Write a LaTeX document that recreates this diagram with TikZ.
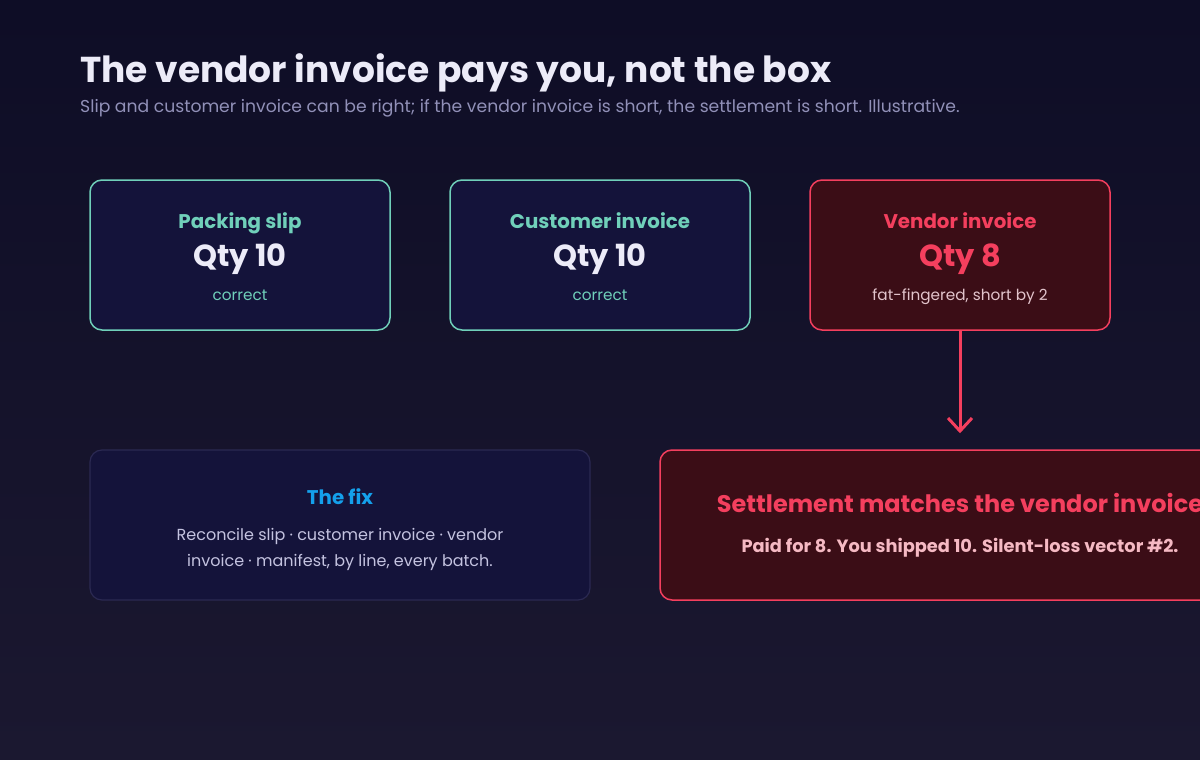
\documentclass[tikz,border=0pt]{standalone}
\usepackage{fontspec}
\setmainfont{Poppins}
\usepackage{xcolor}
\usetikzlibrary{arrows.meta, positioning}
\definecolor{bgtop}{RGB}{14,13,38}
\definecolor{bgbot}{RGB}{27,24,48}
\definecolor{cardfill}{RGB}{20,19,58}
\definecolor{slipteal}{RGB}{112,208,186}
\definecolor{softwhite}{RGB}{236,235,248}
\definecolor{rosered}{RGB}{244,63,94}
\definecolor{redfill}{RGB}{59,13,22}
\definecolor{pinktext}{RGB}{245,185,195}
\definecolor{mutedpink}{RGB}{226,196,204}
\definecolor{fixblue}{RGB}{20,160,235}
\definecolor{fixedge}{RGB}{43,41,82}
\definecolor{bodytext}{RGB}{196,195,224}
\definecolor{subtext}{RGB}{145,144,184}

\begin{document}
\begin{tikzpicture}[x=1pt, y=-1pt,
    card/.style={rectangle, rounded corners=12pt, draw=slipteal, fill=cardfill,
                 line width=1.5pt, minimum width=300pt, minimum height=150pt, inner sep=0pt},
    badcard/.style={card, draw=rosered, fill=redfill},
    wide/.style={card, minimum width=500pt, draw=fixedge, line width=1.2pt},
    widebad/.style={wide, minimum width=600pt, draw=rosered, fill=redfill, line width=1.5pt},
    head/.style={anchor=base, inner sep=0pt, font=\fontsize{19.8}{24}\selectfont\bfseries},
    qty/.style={anchor=base, inner sep=0pt, font=\fontsize{30.5}{34}\selectfont\bfseries, text=softwhite},
    note/.style={anchor=base, inner sep=0pt, font=\fontsize{15.3}{19}\selectfont},
    body/.style={anchor=base, inner sep=0pt, text=bodytext, font=\fontsize{16}{20}\selectfont},
    arrow/.style={-{Straight Barb[length=13pt, width=24pt]}, rosered, line width=3pt}
  ]
    \shade[top color=bgtop, bottom color=bgbot] (0,0) rectangle (1200,760);
    \useasboundingbox (0,0) rectangle (1200,760);
    \clip (0,0) rectangle (1200,760);

    % heading
    \node[anchor=base west, inner sep=0pt, text=softwhite,
          font=\fontsize{36}{40}\selectfont\bfseries] (title) at (80,82)
      {The vendor invoice pays you, not the box};
    \node[anchor=base west, inner sep=0pt, text=subtext,
          font=\fontsize{17.2}{20}\selectfont] (sub) at (80,113)
      {Slip and customer invoice can be right; if the vendor invoice is short, the settlement is short. Illustrative.};

    % top row
    \node[card] (slip) at (240,255) {};
    \node[head, text=slipteal] (sliphead) at (240,228) {Packing slip};
    \node[qty] (slipqty) at (240,266) {Qty 10};
    \node[note, text=slipteal] (slipnote) at (240,300) {correct};

    \node[card] (cust) at (600,255) {};
    \node[head, text=slipteal] (custhead) at (600,228) {Customer invoice};
    \node[qty] (custqty) at (600,266) {Qty 10};
    \node[note, text=slipteal] (custnote) at (600,300) {correct};

    \node[badcard] (vend) at (960,255) {};
    \node[head, text=rosered] (vendhead) at (960,228) {Vendor invoice};
    \node[qty, text=rosered] (vendqty) at (960,266) {Qty 8};
    \node[note, text=mutedpink] (vendnote) at (960,300) {fat-fingered, short by 2};

    % bottom row
    \node[wide] (fix) at (340,525) {};
    \node[head, text=fixblue] (fixhead) at (340,504) {The fix};
    \node[body] (fixline1) at (340,540) {Reconcile slip · customer invoice · vendor};
    \node[body] (fixline2) at (340,566) {invoice · manifest, by line, every batch.};

    \node[widebad] (settle) at (960,525) {};
    \node[anchor=base, inner sep=0pt, text=rosered, font=\fontsize{24}{28}\selectfont\bfseries]
      (settlehead) at (960,512) {Settlement matches the vendor invoice};
    \node[anchor=base, inner sep=0pt, text=pinktext, font=\fontsize{17.8}{21}\selectfont\bfseries]
      (settlenote) at (960,552) {Paid for 8. You shipped 10. Silent-loss vector \#2.};

    \draw[arrow] (vend.south) -- ([yshift=16pt]settle.north);
  \end{tikzpicture}
\end{document}
